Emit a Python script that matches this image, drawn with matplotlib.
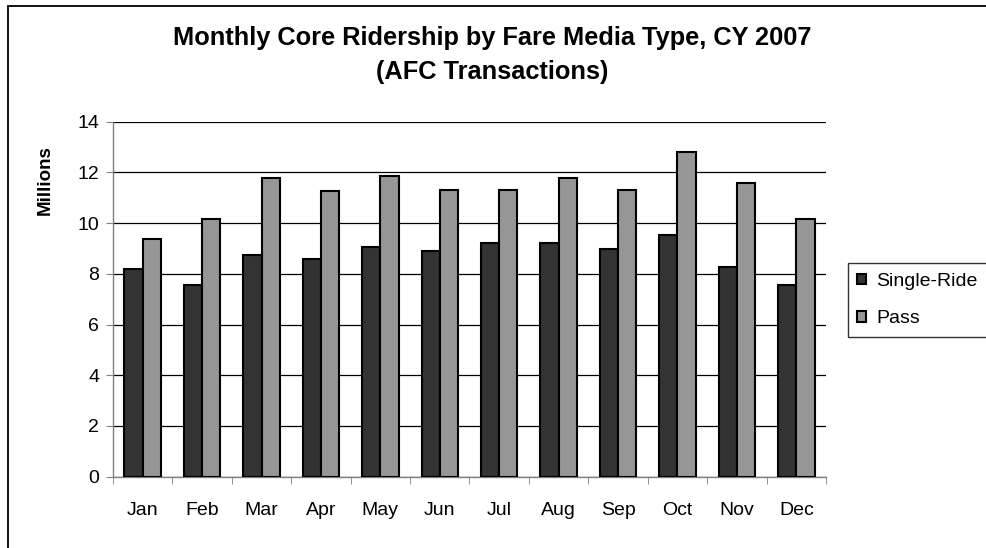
import matplotlib
matplotlib.use("Agg")
import matplotlib.pyplot as plt
import numpy as np
from matplotlib.patches import Rectangle

months = ["Jan", "Feb", "Mar", "Apr", "May", "Jun", "Jul", "Aug", "Sep", "Oct", "Nov", "Dec"]
single_ride = [8.18, 7.56, 8.74, 8.57, 9.06, 8.90, 9.20, 9.20, 8.97, 9.52, 8.27, 7.56]
pass_rides = [9.36, 10.15, 11.79, 11.27, 11.87, 11.32, 11.32, 11.79, 11.32, 12.82, 11.57, 10.15]
yticks = [0, 2, 4, 6, 8, 10, 12, 14]

plt.rcParams['font.family'] = ['Liberation Sans', 'DejaVu Sans']

fig = plt.figure(figsize=(9.87, 5.48), dpi=100)
W, H = 987, 548
ax = fig.add_axes([113 / W, 1 - 476.7 / H, 713 / W, 355 / H])

x = np.arange(len(months))
bw = 0.307
ax.bar(x - bw / 2, single_ride, bw, color="#333333", edgecolor="black", linewidth=1.5,
       label="Single-Ride", zorder=3)
ax.bar(x + bw / 2, pass_rides, bw, color="#969696", edgecolor="black", linewidth=1.5,
       label="Pass", zorder=3)

ax.set_xlim(-0.5, len(months) - 0.5)
ax.set_ylim(0, 14)
ax.set_yticks(yticks)
ax.set_yticklabels([str(t) for t in yticks], fontsize=14)
ax.set_xticks(x)
ax.set_xticklabels(months, fontsize=14)
ax.tick_params(axis="x", which="major", length=0, pad=18)
ax.set_xticks(np.arange(-0.5, len(months)), minor=True)
ax.tick_params(axis="x", which="minor", length=5, direction="out", color="#808080")
ax.tick_params(axis="y", length=5, direction="out", color="#808080", pad=5)

ax.grid(axis="y", color="black", linewidth=0.9, zorder=0)
for s in ["top", "right"]:
    ax.spines[s].set_visible(False)
ax.spines["left"].set_color("#808080")
ax.spines["bottom"].set_color("#808080")
ax.spines["left"].set_linewidth(1.0)
ax.spines["bottom"].set_linewidth(1.0)

fig.text(492 / W, 1 - 38 / H, "Monthly Core Ridership by Fare Media Type, CY 2007",
         ha="center", va="center", fontsize=18.3, fontweight="bold")
fig.text(492 / W, 1 - 72 / H, "(AFC Transactions)",
         ha="center", va="center", fontsize=18.3, fontweight="bold")
fig.text(45 / W, 1 - 180 / H, "Millions", rotation=90, ha="center", va="center",
         fontsize=13.5, fontweight="bold")

leg = ax.legend(loc="upper left", bbox_to_anchor=(847.7 / W, 1 - 263.3 / H),
                bbox_transform=fig.transFigure, fontsize=14, frameon=True,
                fancybox=False, edgecolor="black", handlelength=0.45, handleheight=0.45,
                handletextpad=0.5, borderpad=0.5, labelspacing=1.05, borderaxespad=0)
leg.get_frame().set_linewidth(1.0)

fig.patches.append(Rectangle((8 / W, -0.1), 1.2, (1 - 6 / H) + 0.1, transform=fig.transFigure,
                             fill=False, edgecolor="black", linewidth=1.3))

fig.savefig("out.png", dpi=100)
